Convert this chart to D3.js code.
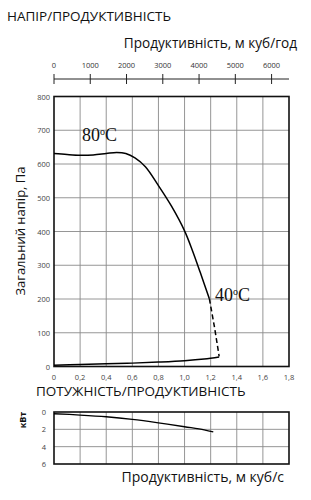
<!DOCTYPE html>
<html><head><meta charset="utf-8">
<script src="https://cdn.jsdelivr.net/npm/d3@7/dist/d3.min.js"></script>
<style>body{margin:0;background:#fff}svg{display:block}</style>
</head><body>
<script>
// Data
const flowTicks = [0, 0.2, 0.4, 0.6, 0.8, 1.0, 1.2, 1.4, 1.6, 1.8];
const flowHourTicks = [0, 1000, 2000, 3000, 4000, 5000, 6000];
const pressureTicks = [0, 100, 200, 300, 400, 500, 600, 700, 800];
const powerTicks = [0, 2, 4, 6];
// 80°C pressure curve (m3/s, Pa)
const curveQ = [0, 0.1, 0.2, 0.3, 0.4, 0.48, 0.55, 0.62, 0.7, 0.8, 0.9, 1.0, 1.06, 1.12, 1.19];
const curveP = [631, 628, 626, 627, 631, 634, 631, 618, 592, 536, 475, 402, 344, 279, 201];
// dashed continuation down to 40°C
const dashQ = [1.19, 1.23, 1.265];
const dashP = [201, 115, 30];
// lower line
const lowQ = [0, 0.2, 0.4, 0.6, 0.8, 1.0, 1.15, 1.265];
const lowP = [4, 6, 8, 10, 13, 17, 22, 28];
// power curve (m3/s, kW)
const powQ = [0, 0.2, 0.4, 0.6, 0.8, 1.0, 1.15, 1.22];
const powK = [0.2, 0.35, 0.55, 0.85, 1.25, 1.7, 2.05, 2.3];

const W = 311, H = 500;
const svg = d3.select("body").append("svg").attr("width", W).attr("height", H);
const font = "'Open Sans', 'Noto Sans', sans-serif";
const fmt = d => d === 0 ? "0" : d3.format(".1f")(d).replace(".", ",");

const x = d3.scaleLinear().domain([0, 1.8]).range([54, 289]);
const xh = d3.scaleLinear().domain([0, 1.8 * 3600]).range([54, 289]);
const y = d3.scaleLinear().domain([0, 800]).range([366.5, 96.5]);
const yp = d3.scaleLinear().domain([0, 6]).range([412, 464]);

// Titles
svg.append("text").attr("x", 7).attr("y", 21).attr("font-family", font).attr("font-size", 13.5).attr("fill", "#111").text("НАПІР/ПРОДУКТИВНІСТЬ");
svg.append("text").attr("x", 297).attr("y", 48).attr("text-anchor", "end").attr("font-family", font).attr("font-size", 13.6).attr("fill", "#111").text("Продуктивність, м куб/год");

// top axis (m3/h)
const topAx = svg.append("g").attr("transform", "translate(0,79)");
topAx.append("line").attr("x1", 54).attr("x2", 289).attr("stroke", "#222").attr("stroke-width", 1);
topAx.selectAll("line.t").data(flowHourTicks).join("line").attr("class", "t")
  .attr("x1", d => xh(d)).attr("x2", d => xh(d)).attr("y1", -5).attr("y2", 5).attr("stroke", "#222");
topAx.selectAll("text").data(flowHourTicks).join("text")
  .attr("x", d => xh(d)).attr("y", -11).attr("text-anchor", "middle").attr("font-family", font)
  .attr("font-size", 7.5).attr("fill", "#333").text(d => d);

// Main grid
const g = svg.append("g");
g.selectAll("line.vx").data(flowTicks.slice(1, -1)).join("line")
  .attr("x1", d => x(d)).attr("x2", d => x(d)).attr("y1", y(800)).attr("y2", y(0))
  .attr("stroke", "#8a8a8a").attr("stroke-width", 0.9);
g.selectAll("line.hy").data(pressureTicks.slice(1, -1)).join("line")
  .attr("x1", x(0)).attr("x2", x(1.8)).attr("y1", d => y(d)).attr("y2", d => y(d))
  .attr("stroke", "#8a8a8a").attr("stroke-width", 0.9);
g.append("rect").attr("x", x(0)).attr("y", y(800)).attr("width", x(1.8) - x(0)).attr("height", y(0) - y(800))
  .attr("fill", "none").attr("stroke", "#111").attr("stroke-width", 1.6);

// y tick labels
svg.selectAll("text.yt").data(pressureTicks).join("text").attr("class", "yt")
  .attr("x", 50).attr("y", d => y(d) + 3).attr("text-anchor", "end").attr("font-family", font)
  .attr("font-size", 7.5).attr("fill", "#444").text(d => d);
// x tick labels
svg.selectAll("text.xt").data(flowTicks).join("text").attr("class", "xt")
  .attr("x", d => x(d)).attr("y", 380).attr("text-anchor", "middle").attr("font-family", font)
  .attr("font-size", 7.5).attr("fill", "#444").text(fmt);

// y label
svg.append("text").attr("transform", "translate(25,231) rotate(-90)").attr("text-anchor", "middle")
  .attr("font-family", font).attr("font-size", 13).attr("fill", "#111").text("Загальний напір, Па");

// curves
const line = d3.line().x(d => x(d[0])).y(d => y(d[1])).curve(d3.curveCatmullRom.alpha(0.5));
svg.append("path").datum(curveQ.map((q, i) => [q, curveP[i]])).attr("d", line)
  .attr("fill", "none").attr("stroke", "#000").attr("stroke-width", 1.5);
svg.append("path").datum(dashQ.map((q, i) => [q, dashP[i]])).attr("d", d3.line().x(d => x(d[0])).y(d => y(d[1])))
  .attr("fill", "none").attr("stroke", "#000").attr("stroke-width", 1.5).attr("stroke-dasharray", "5,3");
svg.append("path").datum(lowQ.map((q, i) => [q, lowP[i]])).attr("d", line)
  .attr("fill", "none").attr("stroke", "#000").attr("stroke-width", 1.5);

// labels 80°C / 40°C
const serif = "'Liberation Serif', 'DejaVu Serif', serif";
function tempLabel(tx, ty, num) {
  const t = svg.append("text").attr("x", tx).attr("y", ty).attr("font-family", serif).attr("font-size", 18).attr("fill", "#111");
  t.append("tspan").text(num);
  t.append("tspan").attr("font-size", 10).attr("dy", -6).text("o");
  t.append("tspan").attr("dy", 6).text("C");
}
tempLabel(82, 141, "80");
tempLabel(215, 301, "40");

// Power section
svg.append("text").attr("x", 36).attr("y", 396).attr("font-family", font).attr("font-size", 13.5).attr("fill", "#111").text("ПОТУЖНІСТЬ/ПРОДУКТИВНІСТЬ");

const pg = svg.append("g");
pg.selectAll("line.vx").data(flowTicks.slice(1, -1)).join("line")
  .attr("x1", d => x(d)).attr("x2", d => x(d)).attr("y1", yp(0)).attr("y2", yp(6))
  .attr("stroke", "#8a8a8a").attr("stroke-width", 0.9);
pg.selectAll("line.hy").data(powerTicks.slice(1, -1)).join("line")
  .attr("x1", x(0)).attr("x2", x(1.8)).attr("y1", d => yp(d)).attr("y2", d => yp(d))
  .attr("stroke", "#8a8a8a").attr("stroke-width", 0.9);
pg.append("rect").attr("x", x(0)).attr("y", yp(0)).attr("width", x(1.8) - x(0)).attr("height", yp(6) - yp(0))
  .attr("fill", "none").attr("stroke", "#111").attr("stroke-width", 1.6);
svg.selectAll("text.pt").data(powerTicks).join("text").attr("class", "pt")
  .attr("x", 46).attr("y", d => yp(d) + 3).attr("text-anchor", "end").attr("font-family", font)
  .attr("font-size", 7.5).attr("fill", "#444").text(d => d);
svg.append("text").attr("transform", "translate(26,420) rotate(-90)").attr("text-anchor", "middle")
  .attr("font-family", font).attr("font-size", 9).attr("font-weight", "bold").attr("fill", "#111").text("кВт");

const pline = d3.line().x(d => x(d[0])).y(d => yp(d[1])).curve(d3.curveCatmullRom.alpha(0.5));
svg.append("path").datum(powQ.map((q, i) => [q, powK[i]])).attr("d", pline)
  .attr("fill", "none").attr("stroke", "#000").attr("stroke-width", 1.3);

svg.append("text").attr("x", 284).attr("y", 482).attr("text-anchor", "end").attr("font-family", font)
  .attr("font-size", 14).attr("fill", "#111").text("Продуктивність, м куб/с");
</script>
</body></html>
